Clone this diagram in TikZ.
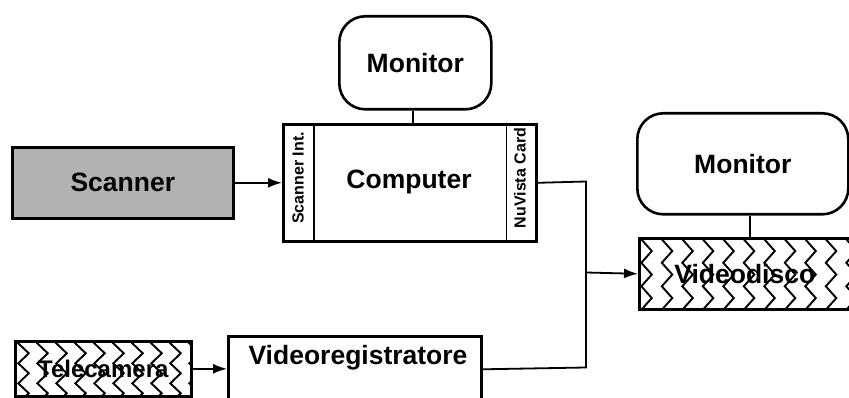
\documentclass[tikz,border=0pt]{standalone}
\usepackage{fontspec}
\setmainfont{Liberation Sans}
\usetikzlibrary{arrows.meta,calc}
\begin{document}
\begin{tikzpicture}[x=1pt,y=-1pt,
  box/.style={draw, line width=2.6pt, rectangle, inner sep=0pt, anchor=north west},
  mon/.style={box, rounded corners=26pt},
  lbl/.style={font=\fontsize{26.5}{30}\selectfont\bfseries},
  small/.style={font=\fontsize{16}{18}\selectfont\bfseries, rotate=90, inner sep=0pt},
  conn/.style={line width=1.8pt},
  arr/.style={conn, -{Latex[length=14pt,width=10pt]}},
  zig/.style n args={5}{path picture={
    \foreach \i in {0,...,#1} {
      \draw[line width=1.9pt, line join=miter]
        ($(path picture bounding box.north west)+(\i*#2+#4,-#5)$)
        \foreach \k in {0,...,5} { -- ++(10.5,#3/2) -- ++(-10.5,#3/2) };
    }}}
]
\fill[white] (0,0) rectangle (849,398);
\useasboundingbox (0,0) rectangle (849,398);

% Monitor above computer
\node[mon, minimum width=152pt, minimum height=93pt, lbl] (mon1) at (338,15) {Monitor};
% Computer
\node[box, minimum width=253pt, minimum height=117pt] (comp) at (282,123) {};
\node[lbl] (comptxt) at (409,182) {Computer};
\draw[line width=1.6pt] ($(comp.north west)+(32,0)$) -- ($(comp.south west)+(32,0)$);
\draw[line width=1.6pt] ($(comp.north east)+(-31,0)$) -- ($(comp.south east)+(-31,0)$);
\node[small] (si) at (298,178) {Scanner Int.};
\node[small] (nv) at (520,178) {NuVista Card};

% Scanner
\node[box, fill=black!30, minimum width=221pt, minimum height=71pt, lbl] (scan) at (11,146) {Scanner};

% Right monitor and videodisc
\node[mon, minimum width=211pt, minimum height=101pt, lbl] (mon2) at (636,112) {Monitor};
\node[box, minimum width=211pt, minimum height=71pt, lbl,
      zig={11}{20.5}{23.5}{2}{22.5}] (vdisc) at (638,237) {Videodisco};

% Telecamera and videoregistratore
\node[box, minimum width=176pt, minimum height=55pt,
      font=\fontsize{24}{27}\selectfont\bfseries,
      zig={10}{19}{20}{3}{18}] (tele) at (14,340) {Telecamera};
\node[box, minimum width=253pt, minimum height=66pt] (vreg) at (227,335) {};
\node[lbl] (vregtxt) at (358,358) {Videoregistratore};

% connectors
\coordinate (t) at (586,181.5);
\coordinate (b) at (586,367.5);
\coordinate (j) at (586,272.5);
\draw[conn] (mon1.south -| 413,0) -- (comp.north -| 413,0);
\draw[arr] (scan.east) -- (comp.west);
\draw[conn] (comp.east) -- (t) -- (b) -- (vreg.east);
\draw[arr] (j) -- (vdisc.west);
\draw[conn] (mon2.south -| 750,0) -- (vdisc.north -| 750,0);
\draw[arr] (tele.east) -- (tele.east -| vreg.west);
\end{tikzpicture}
\end{document}
